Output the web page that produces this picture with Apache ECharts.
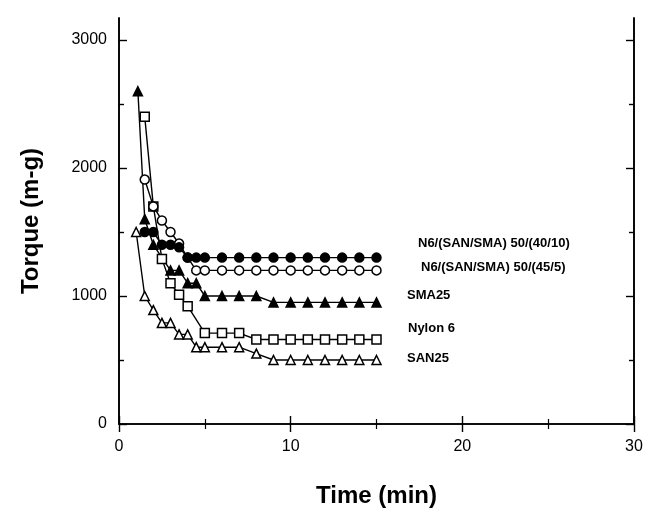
<!DOCTYPE html>
<html><head><meta charset="utf-8">
<script src="https://cdn.jsdelivr.net/npm/echarts@6/dist/echarts.min.js"></script>
<style>html,body{margin:0;padding:0;background:#fff}#c{width:646px;height:511px}</style>
</head><body><div id="c"></div>
<script>
// ---- data ----
const xTicks = [0, 10, 20, 30];
const yTicks = [0, 1000, 2000, 3000];
const yMinorTicks = [500, 1500, 2500];

const names = ['N6/(SAN/SMA) 50/(40/10)', 'N6/(SAN/SMA) 50/(45/5)', 'SMA25', 'Nylon 6', 'SAN25'];

const timeBlend4010 = [1.5, 2, 2.5, 3, 3.5, 4, 4.5, 5, 6, 7, 8, 9, 10, 11, 12, 13, 14, 15];
const torqueBlend4010 = [1500, 1500, 1400, 1400, 1380, 1300, 1300, 1300, 1300, 1300, 1300, 1300, 1300, 1300, 1300, 1300, 1300, 1300];

const timeBlend455 = [1.5, 2, 2.5, 3, 3.5, 4, 4.5, 5, 6, 7, 8, 9, 10, 11, 12, 13, 14, 15];
const torqueBlend455 = [1910, 1700, 1590, 1500, 1410, 1300, 1200, 1200, 1200, 1200, 1200, 1200, 1200, 1200, 1200, 1200, 1200, 1200];

const timeSMA = [1.1, 1.5, 2, 3, 3.5, 4, 4.5, 5, 6, 7, 8, 9, 10, 11, 12, 13, 14, 15];
const torqueSMA = [2600, 1600, 1400, 1200, 1200, 1100, 1100, 1000, 1000, 1000, 1000, 950, 950, 950, 950, 950, 950, 950];

const timeNylon = [1.5, 2, 2.5, 3, 3.5, 4, 5, 6, 7, 8, 9, 10, 11, 12, 13, 14, 15];
const torqueNylon = [2400, 1700, 1290, 1100, 1010, 920, 710, 710, 710, 660, 660, 660, 660, 660, 660, 660, 660];

const timeSAN = [1, 1.5, 2, 2.5, 3, 3.5, 4, 4.5, 5, 6, 7, 8, 9, 10, 11, 12, 13, 14, 15];
const torqueSAN = [1500, 1000, 890, 790, 790, 700, 700, 600, 600, 600, 600, 550, 500, 500, 500, 500, 500, 500, 500];

// ---- chart ----
const pair = (t, v) => t.map((x, i) => [x, v[i]]);
const FONT = '"Liberation Sans", Arial, Helvetica, sans-serif';
const chart = echarts.init(document.getElementById('c'), null, { renderer: 'canvas' });

function mkSeries(name, t, v, symbol, filled, size) {
  return {
    name, type: 'line', data: pair(t, v), xAxisIndex: 0, yAxisIndex: 0,
    symbol, symbolSize: size, showAllSymbol: true, animation: false,
    lineStyle: { color: '#000', width: 1.4 },
    itemStyle: { color: filled ? '#000' : '#fff', borderColor: '#000', borderWidth: 1.5 },
    emphasis: { disabled: true }
  };
}

const axisLine = { show: true, lineStyle: { color: '#000', width: 1.6 } };
const baseX = {
  type: 'value', min: 0, max: 30, interval: 10,
  axisLine, splitLine: { show: false }, minorSplitLine: { show: false },
  axisTick: { show: true, inside: true, length: 8, lineStyle: { color: '#000', width: 1.4 } },
  minorTick: { show: true, splitNumber: 2, length: 5, lineStyle: { color: '#000', width: 1.2 } }
};
const yMax = 3172;
function yAx(pos, ticks, len, labels) {
  return {
    type: 'value', min: 0, max: yMax, position: pos,
    axisLine, splitLine: { show: false },
    axisTick: { show: true, inside: true, length: len, customValues: ticks, lineStyle: { color: '#000', width: 1.4 } },
    axisLabel: labels ? { show: true, customValues: yTicks, formatter: v => String(v), color: '#000', fontFamily: FONT, fontSize: 16, margin: 12 } : { show: false }
  };
}

const option = {
  backgroundColor: '#fff',
  animation: false,
  grid: { left: 119, right: 12, top: 18, bottom: 87, containLabel: false, outerBoundsMode: 'none' },
  xAxis: [
    Object.assign({}, baseX, {
      position: 'bottom',
      axisLabel: { show: true, formatter: v => String(v), color: '#000', fontFamily: FONT, fontSize: 16, margin: 15 },
      name: 'Time (min)', nameLocation: 'middle', nameGap: 60,
      nameTextStyle: { color: '#000', fontFamily: FONT, fontSize: 24, fontWeight: 'bold' }
    }),
    Object.assign({}, baseX, { position: 'top', axisLabel: { show: false } })
  ],
  yAxis: [
    Object.assign(yAx('left', yTicks, 8, true), {
      name: 'Torque (m-g)', nameLocation: 'middle', nameGap: 76,
      nameTextStyle: { color: '#000', fontFamily: FONT, fontSize: 24, fontWeight: 'bold' }
    }),
    yAx('left', yMinorTicks, 5, false),
    yAx('right', yTicks, 8, false),
    yAx('right', yMinorTicks, 5, false)
  ],
  series: [
    mkSeries(names[4], timeSAN, torqueSAN, 'triangle', false, 9),
    mkSeries(names[3], timeNylon, torqueNylon, 'rect', false, 9),
    mkSeries(names[2], timeSMA, torqueSMA, 'triangle', true, 9),
    mkSeries(names[1], timeBlend455, torqueBlend455, 'circle', false, 9),
    mkSeries(names[0], timeBlend4010, torqueBlend4010, 'circle', true, 9)
  ],
  graphic: [
    { type: 'text', left: 418, top: 237, style: { text: names[0], font: 'bold 13px ' + FONT, fill: '#000' } },
    { type: 'text', left: 421, top: 261, style: { text: names[1], font: 'bold 13px ' + FONT, fill: '#000' } },
    { type: 'text', left: 407, top: 289, style: { text: names[2], font: 'bold 13px ' + FONT, fill: '#000' } },
    { type: 'text', left: 408, top: 322, style: { text: names[3], font: 'bold 13px ' + FONT, fill: '#000' } },
    { type: 'text', left: 407, top: 352, style: { text: names[4], font: 'bold 13px ' + FONT, fill: '#000' } }
  ]
};
chart.setOption(option);
</script>
</body></html>
